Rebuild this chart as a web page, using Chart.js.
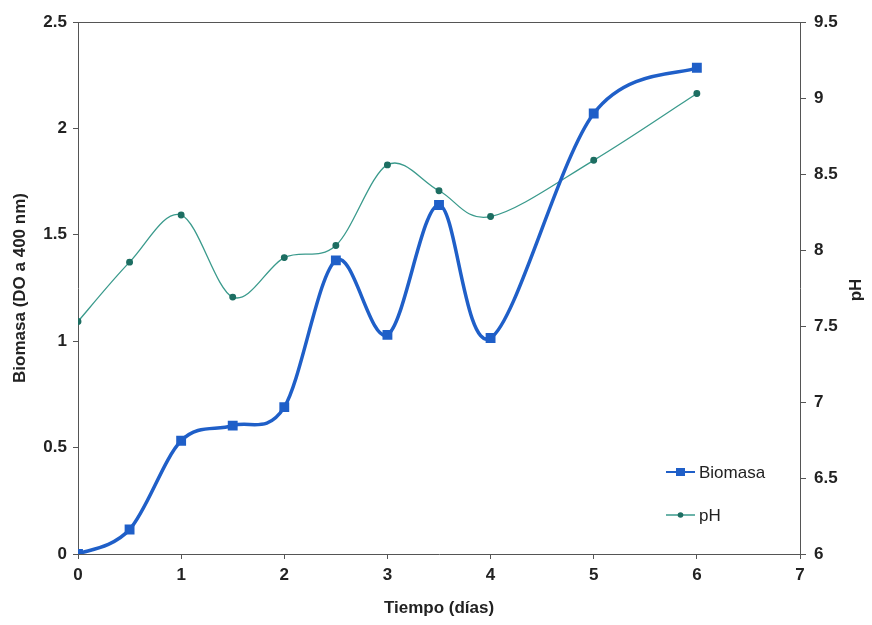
<!DOCTYPE html>
<html>
<head>
<meta charset="utf-8">
<script src="https://cdn.jsdelivr.net/npm/chart.js@4.4.1/dist/chart.umd.min.js"></script>
<style>
  html, body { margin: 0; padding: 0; background: #fff; }
  #wrap { width: 872px; height: 625px; }
</style>
</head>
<body>
<div id="wrap"><canvas id="chart" width="872" height="625"></canvas></div>
<script>
// Datos
const tiempo = [0, 0.5, 1, 1.5, 2, 2.5, 3, 3.5, 4, 5, 6];
const biomasa = [0.0, 0.115, 0.532, 0.603, 0.69, 1.38, 1.03, 1.64, 1.015, 2.07, 2.285];
const ph = [7.53, 7.92, 8.23, 7.69, 7.95, 8.03, 8.56, 8.39, 8.22, 8.59, 9.03];
const xTicks = [0, 1, 2, 3, 4, 5, 6, 7];

const FONT = "'Liberation Sans', Arial, sans-serif";
const BLUE = '#1f5fc8';
const TEAL = '#3a9a8c';
const TEAL_DARK = '#1d6e62';

function toPoints(xs, ys) {
    return xs.map((x, i) => ({ x: x, y: ys[i] }));
}

function fmt(value) {
    return String(Math.round(value * 100) / 100);
}

// Suavizado tipo Excel (Catmull-Rom uniforme) sobre los puntos ya calculados
const smooth = {
    id: 'smooth',
    beforeDatasetsDraw(chart) {
        chart.data.datasets.forEach((ds, di) => {
            const meta = chart.getDatasetMeta(di);
            const line = meta.dataset;
            line.updateControlPoints(chart.chartArea, 'x');
            const pts = meta.data;
            const n = pts.length;
            for (let i = 0; i < n; i++) {
                const p = pts[i];
                const prev = pts[Math.max(i - 1, 0)];
                const next = pts[Math.min(i + 1, n - 1)];
                const tx = (next.x - prev.x) / 6;
                const ty = (next.y - prev.y) / 6;
                p.cp1x = p.x - tx;
                p.cp1y = p.y - ty;
                p.cp2x = p.x + tx;
                p.cp2y = p.y + ty;
            }
            line._pointsUpdated = true;
        });
    }
};

// Marco superior, título derecho y leyenda dentro del área
const extras = {
    id: 'extras',
    afterDraw(chart) {
        const ctx = chart.ctx;
        const a = chart.chartArea;
        ctx.save();
        ctx.strokeStyle = '#555';
        ctx.lineWidth = 1;
        ctx.beginPath();
        ctx.moveTo(a.left, a.top + 0.5);
        ctx.lineTo(a.right, a.top + 0.5);
        ctx.stroke();

        // título del eje derecho (leído de abajo hacia arriba)
        ctx.translate(856, 290);
        ctx.rotate(-Math.PI / 2);
        ctx.fillStyle = '#222';
        ctx.font = 'bold 17px ' + FONT;
        ctx.textAlign = 'center';
        ctx.textBaseline = 'middle';
        ctx.fillText('pH', 0, 0);
        ctx.restore();

        // leyenda
        ctx.save();
        chart.data.datasets.forEach((ds, i) => {
            const y = 472 + i * 43;
            const x0 = 666, x1 = 695;
            ctx.strokeStyle = ds.borderColor;
            ctx.lineWidth = i === 0 ? 2 : 1.5;
            ctx.beginPath();
            ctx.moveTo(x0, y);
            ctx.lineTo(x1, y);
            ctx.stroke();
            ctx.fillStyle = ds.pointBackgroundColor;
            const cx = (x0 + x1) / 2;
            if (ds.pointStyle === 'rect') {
                ctx.fillRect(cx - 4.5, y - 4, 9, 8);
            } else {
                ctx.beginPath();
                ctx.arc(cx, y, 2.8, 0, Math.PI * 2);
                ctx.fill();
            }
            ctx.fillStyle = '#222';
            ctx.font = '17px ' + FONT;
            ctx.textAlign = 'left';
            ctx.textBaseline = 'middle';
            ctx.fillText(ds.label, 699, y + 1);
        });
        ctx.restore();
    }
};

new Chart(document.getElementById('chart'), {
    type: 'line',
    data: {
        datasets: [{
            label: 'Biomasa',
            data: toPoints(tiempo, biomasa),
            yAxisID: 'y',
            borderColor: BLUE,
            backgroundColor: BLUE,
            pointBackgroundColor: BLUE,
            pointBorderColor: BLUE,
            pointStyle: 'rect',
            pointRadius: 4.5,
            borderWidth: 3.5,
            tension: 0.4,
            fill: false
        }, {
            label: 'pH',
            data: toPoints(tiempo, ph),
            yAxisID: 'y1',
            borderColor: TEAL,
            backgroundColor: TEAL_DARK,
            pointBackgroundColor: TEAL_DARK,
            pointBorderColor: TEAL_DARK,
            pointStyle: 'circle',
            pointRadius: 2.8,
            borderWidth: 1.3,
            tension: 0.4,
            fill: false
        }]
    },
    options: {
        responsive: false,
        animation: false,
        layout: { padding: { top: 22, left: 0, right: 0, bottom: 0 } },
        plugins: {
            legend: { display: false },
            tooltip: { enabled: false }
        },
        scales: {
            x: {
                type: 'linear',
                min: 0,
                max: 7,
                afterBuildTicks(scale) {
                    scale.ticks = xTicks.map(v => ({ value: v }));
                },
                afterFit(scale) { scale.height = 71; },
                grid: { display: true, drawOnChartArea: false, tickLength: 5, color: '#555' },
                border: { display: true, color: '#555', width: 1 },
                ticks: {
                    color: '#222',
                    padding: 6,
                    callback: fmt,
                    font: { family: FONT, size: 17, weight: 'bold' }
                },
                title: {
                    display: true,
                    text: 'Tiempo (días)',
                    color: '#222',
                    padding: { top: 4, bottom: 6 },
                    font: { family: FONT, size: 17, weight: 'bold' }
                }
            },
            y: {
                type: 'linear',
                position: 'left',
                min: 0,
                max: 2.5,
                ticks: {
                    stepSize: 0.5,
                    color: '#222',
                    padding: 6,
                    callback: fmt,
                    font: { family: FONT, size: 17, weight: 'bold' }
                },
                afterFit(scale) { scale.width = 78; },
                grid: { display: true, drawOnChartArea: false, tickLength: 5, color: '#555' },
                border: { display: true, color: '#555', width: 1 },
                title: {
                    display: true,
                    text: 'Biomasa (DO a 400 nm)',
                    color: '#222',
                    padding: { top: 10, bottom: 4 },
                    font: { family: FONT, size: 17, weight: 'bold' }
                }
            },
            y1: {
                type: 'linear',
                position: 'right',
                min: 6,
                max: 9.5,
                ticks: {
                    stepSize: 0.5,
                    color: '#222',
                    padding: 8,
                    callback: fmt,
                    font: { family: FONT, size: 17, weight: 'bold' }
                },
                afterFit(scale) { scale.width = 72; },
                grid: { display: true, drawOnChartArea: false, tickLength: 6, color: '#555' },
                border: { display: true, color: '#555', width: 1 }
            }
        }
    },
    plugins: [smooth, extras]
});
</script>
</body>
</html>
